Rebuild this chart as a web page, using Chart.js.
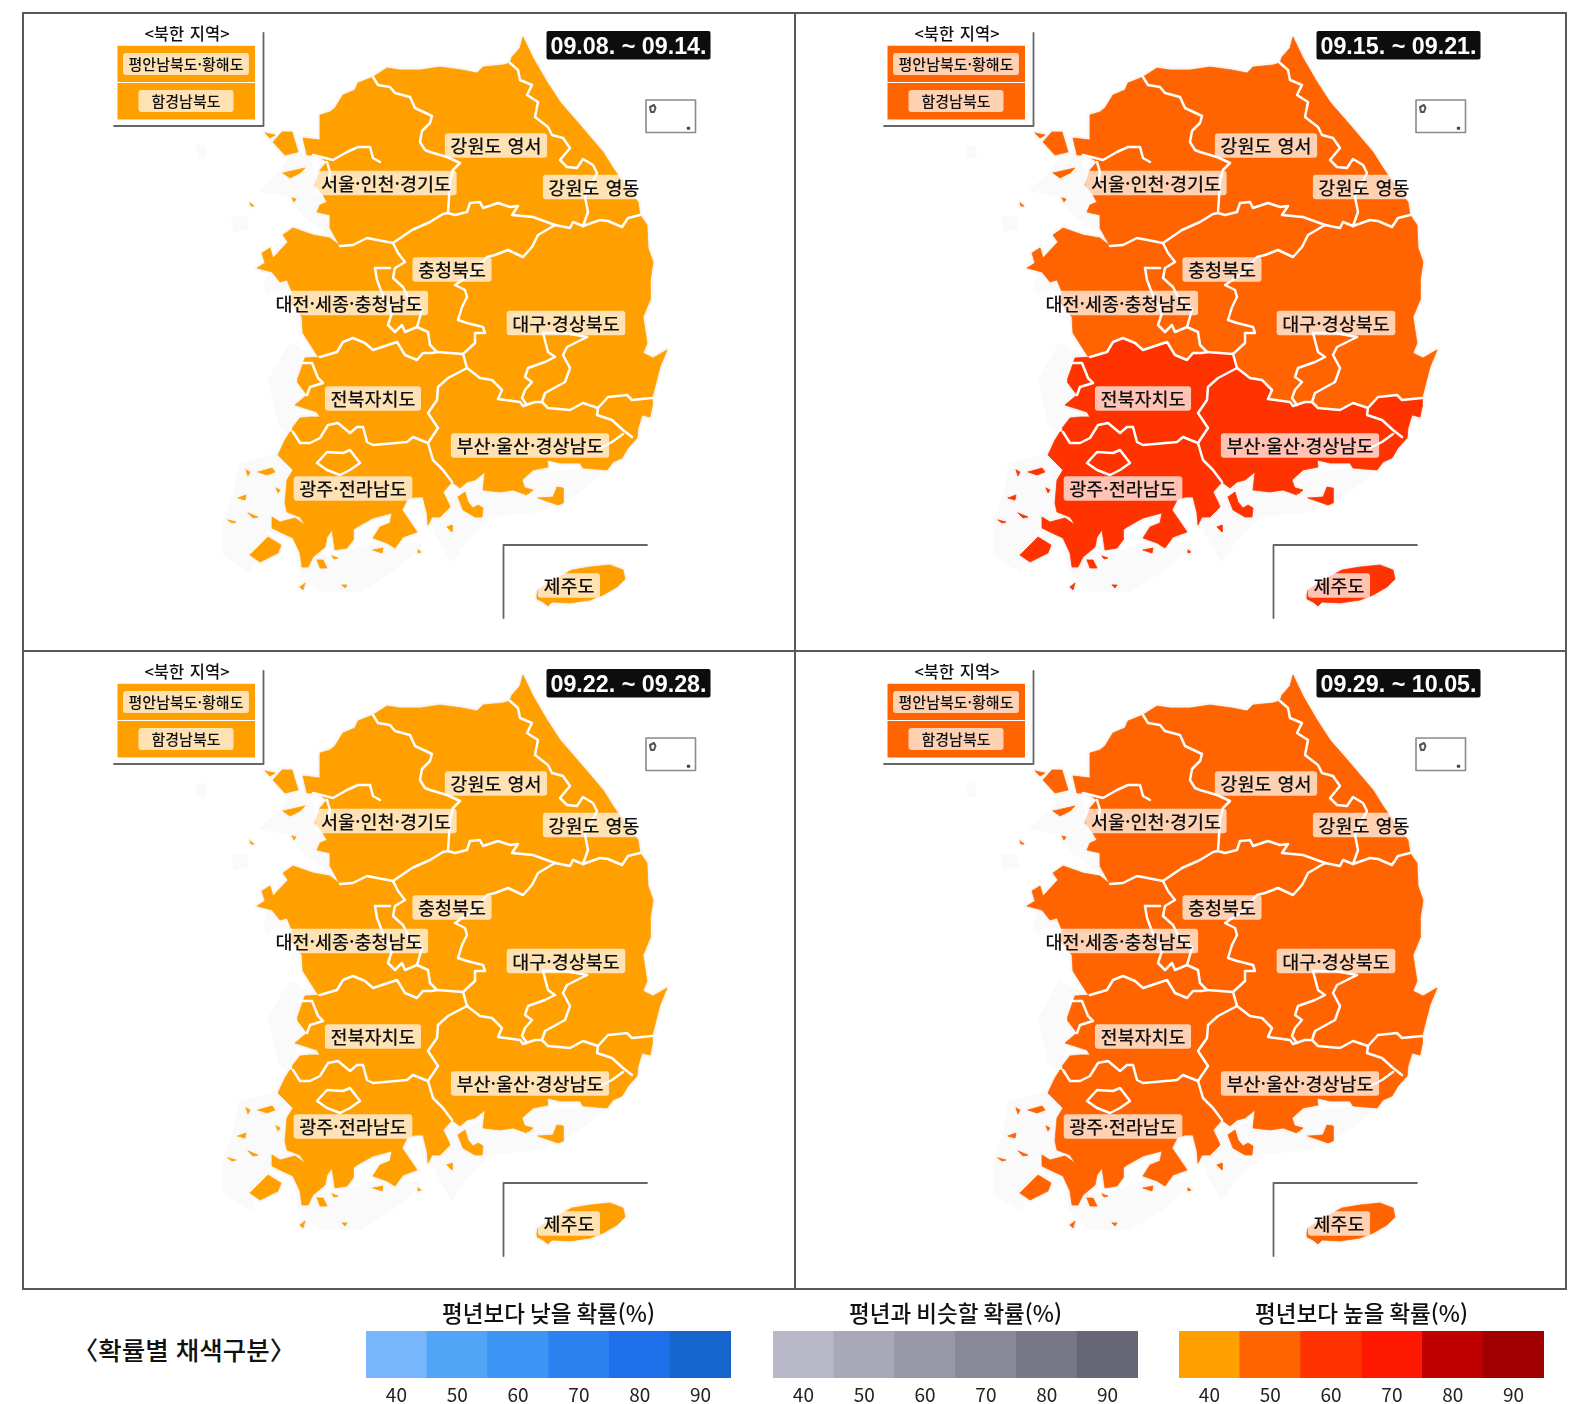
<!DOCTYPE html>
<html lang="ko"><head><meta charset="utf-8">
<script src="https://cdn.jsdelivr.net/npm/chart.js@4"></script>
<style>
html,body{margin:0;padding:0;background:#fff;width:1586px;height:1404px;overflow:hidden}
canvas{position:absolute;display:block}
.f{position:absolute;background:#595959}
#cap{position:absolute;left:44px;top:1331px;width:280px;text-align:center;font:500 25.5px/36px "Noto Sans CJK KR";color:#111;white-space:nowrap}
</style></head><body>
<div class="f" style="left:22px;top:12px;width:1545px;height:2px"></div>
<div class="f" style="left:22px;top:650px;width:1545px;height:2px"></div>
<div class="f" style="left:22px;top:1288px;width:1545px;height:2px"></div>
<div class="f" style="left:22px;top:12px;width:2px;height:1278px"></div>
<div class="f" style="left:794px;top:12px;width:2px;height:1278px"></div>
<div class="f" style="left:1565px;top:12px;width:2px;height:1278px"></div>
<div id="cap">〈확률별 채색구분〉</div>
<script>
// ---------- categories and values ----------
const weekLabels=['09.08. ~ 09.14.','09.15. ~ 09.21.','09.22. ~ 09.28.','09.29. ~ 10.05.'];
const regionNames=['강원도 영서','강원도 영동','서울·인천·경기도','충청북도','대전·세종·충청남도','대구·경상북도','전북자치도','부산·울산·경상남도','광주·전라남도','제주도','평안남북도·황해도','함경남북도'];
const week1Prob=[40,40,40,40,40,40,40,40,40,40,40,40];
const week2Prob=[50,50,50,50,50,50,60,60,60,60,50,50];
const week3Prob=[40,40,40,40,40,40,40,40,40,40,40,40];
const week4Prob=[50,50,50,50,50,50,50,50,50,50,50,50];
const weekProbs=[week1Prob,week2Prob,week3Prob,week4Prob];
const legendCategories=['40','50','60','70','80','90'];
const legendSwatch=[1,1,1,1,1,1];
const lowColors=['#78b6fc','#52a4f6','#3d96f6','#2a81ef','#1f6feb','#1565cc'];
const nearColors=['#b8b8c8','#a8a8b6','#9898a6','#888896','#777785','#666674'];
const highColors=['#ff9f00','#ff6400','#ff3300','#ff1800','#be0000','#a00000'];
const legendTitles=['평년보다 낮을 확률(%)','평년과 비슷할 확률(%)','평년보다 높을 확률(%)'];

// ---------- map geometry in map units ----------
const gyCoast=[[340,246],[330,228],[330,215],[317,212],[320,205],[327,202],[323,195],[315,185],[320,170],[327,162],[317,155],[307,155],[303,138],[320,140],[320,115],[330,112],[335,108],[343,95],[355,90],[358,83],[373,77]];
const ggGw=[[373,77],[378,85],[390,87],[395,93],[410,97],[415,108],[432,116],[430,123],[422,131],[420,142],[425,150],[430,152],[447,157],[460,163],[453,170],[450,182],[448,213]];
const ggCb=[[448,213],[443,214],[430,222],[412,230],[393,243]];
const ggCn=[[393,243],[367,238],[353,245],[340,246]];
const gwNorth=[[373,77],[387,68],[400,70],[420,70],[440,67],[462,70],[477,73],[483,67],[503,65],[510,63]];
const wsEd=[[510,63],[518,70],[520,80],[532,85],[527,95],[538,102],[535,117],[548,127],[552,135],[563,138],[570,148],[560,160],[567,167],[577,168],[583,159],[593,165],[597,173],[585,197],[588,212],[583,226]];
const gwCb=[[448,213],[455,215],[467,212],[470,203],[480,202],[483,208],[498,203],[510,207],[518,206],[512,215],[533,217],[555,225]];
const gwGb1=[[555,225],[570,228],[573,222],[583,226]];
const gwGb2=[[583,226],[600,220],[608,221],[622,227],[628,218],[640,215]];
const edCoast=[[510,63],[512,57],[520,48],[523,37],[533,58],[547,82],[560,102],[580,125],[603,152],[613,168],[620,178],[638,202],[640,215]];
const cbCn=[[393,243],[398,253],[405,262],[395,268],[393,278],[403,287],[408,297],[422,310],[417,327],[428,332],[430,345],[437,352]];
const cbJb=[[437,352],[463,354]];
const cbGb=[[555,225],[538,235],[532,247],[523,257],[508,250],[495,255],[487,257],[473,273],[455,285],[465,290],[467,297],[462,307],[458,320],[467,323],[483,327],[485,333],[475,333],[475,343],[463,354]];
const cnCoast=[[340,246],[330,238],[313,235],[293,228],[283,235],[288,242],[273,258],[270,248],[262,253],[265,263],[257,268],[272,272],[280,282],[287,280],[292,292],[290,302],[302,317],[303,333],[317,355],[320,357]];
const cnJb=[[320,357],[337,352],[343,342],[353,338],[365,343],[373,350],[397,342],[405,355],[417,360],[423,353],[432,353],[437,352]];
const jbCoast=[[320,357],[305,358],[298,378],[298,383],[307,395],[295,405],[317,412],[320,417],[310,417],[300,418],[293,427],[293,432]];
const jbJn=[[293,432],[300,443],[310,443],[320,438],[328,425],[338,423],[350,433],[357,427],[363,427],[367,442],[373,445],[407,442],[413,437],[428,443]];
const gbJb=[[463,354],[467,368]];
const jbGn=[[467,368],[448,378],[438,387],[437,400],[428,413],[438,428],[432,437],[428,443]];
const jnGn=[[428,443],[433,460],[443,470],[452,482]];
const jnCoast=[[452,482],[443,492],[448,502],[450,507],[440,517],[432,517],[428,525],[427,513],[423,497],[415,497],[407,500],[402,510],[417,532],[403,537],[395,548],[387,543],[373,538],[380,527],[390,523],[392,513],[373,518],[357,527],[353,530],[353,540],[347,548],[335,550],[332,530],[327,537],[325,547],[313,557],[308,567],[302,567],[300,553],[293,538],[280,532],[272,528],[272,517],[280,522],[295,518],[305,525],[300,517],[287,512],[285,503],[287,480],[293,470],[278,455],[285,440],[290,432],[293,432]];
const gbGn=[[467,368],[480,378],[492,380],[502,390],[498,399],[520,402],[523,406],[535,402],[542,402],[548,408],[570,410],[583,403],[598,408],[608,397],[627,395],[632,400],[652,398]];
const gbCoast=[[640,215],[647,225],[648,248],[653,262],[650,282],[650,300],[643,317],[647,343],[643,353],[653,358],[667,350],[660,367],[652,398]];
const gnCoast=[[652,398],[652,407],[650,417],[642,415],[638,428],[637,438],[628,448],[622,458],[613,462],[607,470],[583,468],[580,463],[560,463],[547,460],[548,467],[533,470],[522,480],[527,495],[513,490],[500,492],[483,490],[485,472],[475,480],[467,482],[460,488],[452,482]];
const rev=a=>[...a].reverse();
const regionShapes=[
 [0,[...gwNorth,...wsEd,...rev(gwGb1),...rev(gwCb),...rev(ggGw)]],
 [1,[...edCoast,...rev(gwGb2),...rev(wsEd)]],
 [2,[...gyCoast,...ggGw,...ggCb,...ggCn]],
 [3,[...gwCb,...cbGb,...rev(cbJb),...rev(cbCn),...rev(ggCb)]],
 [4,[...cnCoast,...cnJb,...rev(cbCn),...ggCn]],
 [5,[...gwGb1,...gwGb2,...gbCoast,...rev(gbGn),...rev(gbJb),...rev(cbGb)]],
 [6,[...jbCoast,...jbJn,...rev(jbGn),...rev(gbJb),...rev(cbJb),...rev(cnJb)]],
 [7,[...gbGn,...gnCoast,...rev(jnGn),...jbGn]],
 [8,[...jbJn,...jnGn,...jnCoast]],
 [9,[[537,595],[538,590],[552,581],[572,570],[590,567],[610,565],[623,570],[625,579],[617,587],[603,595],[590,600],[570,603],[552,602],[548,606],[543,602],[537,599],[537,595]]],
 [10,[[117.5,45.7],[255,45.7],[255,82],[117.5,82],[117.5,45.7]]],
 [11,[[117.5,83],[255,83],[255,119.5],[117.5,119.5],[117.5,83]]],
 // islands
 [2,[[282,132],[292,132],[298,152],[285,155],[273,142],[282,132]]],
 [2,[[265,133],[275,135],[270,138],[265,133]]],
 [2,[[283,173],[305,168],[300,173],[290,178],[283,173]]],
 [2,[[250,203],[254,206],[251,206],[250,203]]],
 [2,[[292,198],[296,199],[294,202],[292,198]]],
 [2,[[325,205],[330,210],[322,213],[325,205]]],
 [7,[[538,498],[553,497],[557,487],[563,488],[563,503],[558,505],[538,498]]],
 [7,[[458,497],[465,492],[468,502],[473,508],[478,505],[483,508],[482,517],[475,517],[463,510],[458,497]]],
 [7,[[522,487],[533,490],[528,494],[522,487]]],
 [8,[[447,527],[452,525],[452,532],[447,527]]],
 [8,[[250,555],[268,537],[281,545],[278,553],[260,562],[250,555]]],
 [8,[[258,472],[272,468],[275,472],[267,475],[258,472]]],
 [8,[[246,470],[250,472],[248,476],[246,470]]],
 [8,[[238,498],[246,495],[245,500],[238,498]]],
 [8,[[248,513],[258,517],[253,518],[248,513]]],
 [8,[[228,520],[236,522],[232,523],[228,520]]],
 [8,[[317,560],[323,560],[327,568],[320,568],[317,560]]],
 [8,[[332,556],[338,558],[334,559],[332,556]]],
 [8,[[373,550],[383,548],[382,553],[373,550]]],
 [8,[[342,585],[347,585],[345,588],[342,585]]],
 [8,[[300,587],[305,583],[303,590],[300,587]]],
 [8,[[276,488],[280,490],[278,493],[276,488]]],
 [8,[[418,550],[421,552],[418,553],[418,550]]]
];
const innerLines=[ggGw,ggCb,ggCn,wsEd,gwCb,gwGb1,gwGb2,cbCn,cbJb,cbGb,cnJb,gbJb,jbJn,jbGn,jnGn,gbGn,
 [[313,155],[333,160],[347,152],[358,147],[370,147],[373,158],[380,162]],
 [[327,162],[330,172],[328,182]],
 [[375,268],[390,268]],[[375,268],[377,280],[382,293],[392,313],[388,325],[395,332],[402,325],[405,332],[417,327]],
 [[300,363],[312,363],[318,378],[323,383],[310,387],[307,395]],
 [[317,463],[327,452],[343,453],[350,450],[360,463],[350,470],[340,475],[327,470],[317,463]],
 [[543,333],[548,352],[555,357],[545,362],[528,368],[525,377],[532,382],[525,390],[522,398],[527,405]],
 [[587,337],[567,347],[563,355],[570,368],[565,382],[545,393],[542,402]],
 [[543,333],[565,333],[587,337]],
 [[598,408],[597,415],[612,420],[623,430],[632,437]],
 [[623,434],[612,442],[600,448]]
];
const seaHaze=[
 [[295,150],[310,160],[320,200],[330,232],[305,215],[290,195],[262,190],[280,175]],
 [[233,218],[245,218],[247,228],[235,230]],
 [[198,147],[204,147],[205,157],[199,157]],
 [[272,262],[290,290],[300,320],[285,310],[265,290]],
 [[290,345],[315,358],[295,405],[290,432],[280,425],[270,380]],
 [[283,445],[290,505],[300,570],[320,590],[360,590],[395,568],[420,545],[370,545],[330,560],[300,540],[270,530]],
 [[240,465],[278,455],[285,500],[265,530],[250,570],[225,555],[225,520],[235,495]],
 [[420,495],[470,488],[535,475],[605,468],[580,490],[540,510],[490,515],[465,540],[452,560],[438,535]]
];
const insetLines=[
 {pts:[[646,100],[695.5,100],[695.5,132.5],[646,132.5],[646,100]],w:1.6,c:'#8a8a8a'},
 {pts:[[503.5,618],[503.5,545],[647,545]],w:1.8,c:'#666'},
 {pts:[[114,126],[263.5,126],[263.5,33]],w:1.8,c:'#666'}
];
const ulleung=[[650,107],[654,105],[655.5,108],[654,112],[651,112],[650,107]];
const dokdo=[[687.5,127.5],[689.5,127.5],[689.5,129],[687.5,129],[687.5,127.5]];
const labelCenters=[[496,145.5],[594,187],[386,183],[452,269.5],[349,303],[566,323],[373,398.5],[530,445.5],[353,488.5],[569,585.5],[186,64],[186,101]];
const labelPad=[11,11,11,11,11,11,11,11,11,11,11,26];
const headerCenter=[187,34], dateBox=[546.5,31,164,28.5];

const pts=a=>a.map(p=>({x:p[0],y:p[1]}));
function mapDatasets(probs){
 const out=[]; const colorOf=i=>highColors[legendCategories.indexOf(String(probs[i]))];
 const add=o=>out.push(Object.assign({showLine:true,pointRadius:0,tension:0,fill:false,borderJoinStyle:'round',borderCapStyle:'round'},o));
 seaHaze.forEach(s=>add({data:pts([...s,s[0]]),fill:'shape',backgroundColor:'#fafafa',borderColor:'#fafafa',borderWidth:4}));
 regionShapes.forEach(([r,s])=>{ if(r<10) add({data:pts(s),borderColor:'#f6f6f6',borderWidth:5,backgroundColor:'#f6f6f6'}); });
 regionShapes.forEach(([r,s])=>add({data:pts(s),fill:'shape',backgroundColor:colorOf(r),borderColor:colorOf(r),borderWidth:r<10?.8:0}));
 innerLines.forEach(s=>add({data:pts(s),borderColor:'#fff',borderWidth:2.5}));
 insetLines.forEach(l=>add({data:pts(l.pts),borderColor:l.c,borderWidth:l.w}));
 add({data:pts(ulleung),borderColor:'#555',borderWidth:2});
 add({data:pts(dokdo),borderColor:'#444',borderWidth:1.4});
 out.forEach((d,i)=>d.order=out.length-i);
 return out;
}
const mapText={id:'mapText',afterDatasetsDraw(chart,_,o){
 const c=chart.ctx,x=chart.scales.x,y=chart.scales.y;
 const rr=(a,b,w,h,r,col)=>{c.fillStyle=col;c.beginPath();c.roundRect(a,b,w,h,r);c.fill();};
 c.save();c.textAlign='center';c.textBaseline='middle';c.wordSpacing='2px';
 regionNames.forEach((n,i)=>{
  const small=i>=10;c.font=`500 ${small?15:18.5}px "Noto Sans CJK KR"`;
  const w=c.measureText(n).width+labelPad[i],h=small?22:24.5;
  const px=x.getPixelForValue(labelCenters[i][0]),py=y.getPixelForValue(labelCenters[i][1]);
  rr(px-w/2,py-h/2,w,h,3,'rgba(255,255,255,.7)');
  c.fillStyle='#111';c.fillText(n,px,py+.5);
 });
 c.font='500 16.5px "Noto Sans CJK KR"';c.fillStyle='#111';
 c.fillText('<북한 지역>',x.getPixelForValue(headerCenter[0]),y.getPixelForValue(headerCenter[1]));
 const bx=x.getPixelForValue(dateBox[0]),by=y.getPixelForValue(dateBox[1]);
 rr(bx,by,dateBox[2],dateBox[3],2,'#0d0d0d');
 c.wordSpacing='0px';c.font='bold 23.3px "Liberation Sans"';c.fillStyle='#fff';
 c.fillText(o.date,bx+dateBox[2]/2,by+dateBox[3]/2+2);
 c.restore();
}};
function addCanvas(l,t,w,h){const e=document.createElement('canvas');e.width=w;e.height=h;e.style.cssText=`left:${l}px;top:${t}px;width:${w}px;height:${h}px`;document.body.appendChild(e);return e;}
weekProbs.forEach((p,i)=>{
 const col=i%2,row=i>>1;
 new Chart(addCanvas(23+770*col,13+638*row,770,638),{type:'scatter',data:{datasets:mapDatasets(p)},plugins:[mapText],
  options:{responsive:false,animation:false,devicePixelRatio:1,layout:{padding:0},events:[],
   scales:{x:{type:'linear',display:false,min:23,max:793},y:{type:'linear',display:false,min:13,max:651,reverse:true}},
   plugins:{legend:{display:false},tooltip:{enabled:false},mapText:{date:weekLabels[i]}}}});
});
[[366,lowColors],[773,nearColors],[1179,highColors]].forEach(([l,cols],i)=>{
 new Chart(addCanvas(l,1290,365,114),{type:'bar',data:{labels:legendCategories,datasets:[{data:legendSwatch,backgroundColor:cols,borderWidth:0,barPercentage:1,categoryPercentage:1}]},
  options:{responsive:false,animation:false,devicePixelRatio:1,layout:{padding:0},events:[],
   scales:{y:{display:false,min:0,max:1},
    x:{grid:{display:false,drawTicks:false},border:{display:false},afterFit(s){s.height=26;},ticks:{color:'#222',padding:5,maxRotation:0,font:{family:'"Noto Sans CJK KR"',size:19}}}},
   plugins:{legend:{display:false},tooltip:{enabled:false},title:{display:true,text:legendTitles[i],color:'#111',padding:{top:10,bottom:4},font:{family:'"Noto Sans CJK KR"',size:22.5,weight:'500',lineHeight:1.2}}}}});
});
</script></body></html>
